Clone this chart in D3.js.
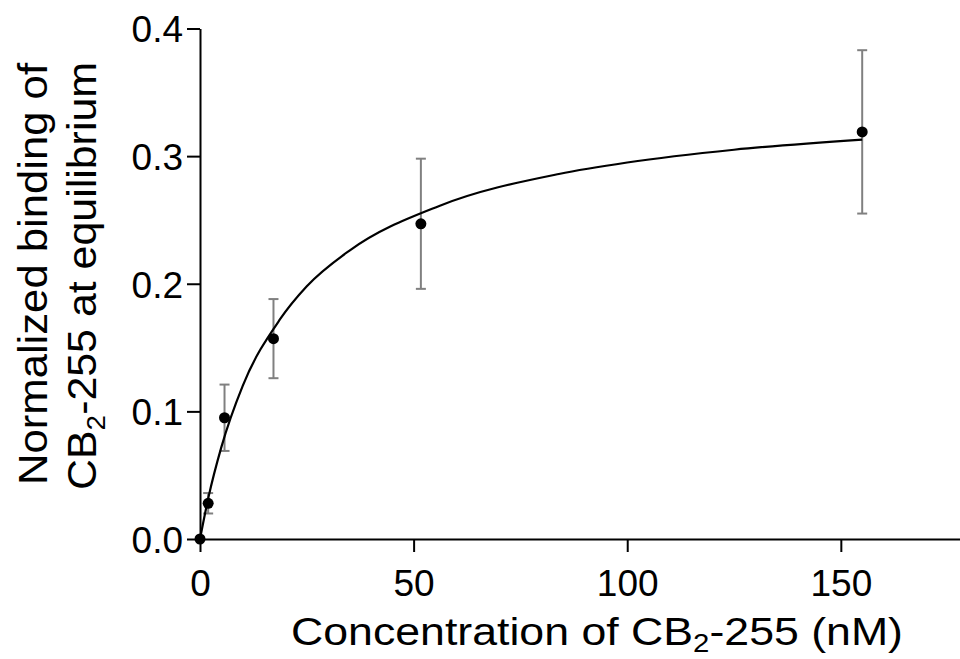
<!DOCTYPE html>
<html>
<head>
<meta charset="utf-8">
<script src="https://cdn.jsdelivr.net/npm/d3@7"></script>
<style>
  html, body { margin: 0; padding: 0; background: #fff; }
  svg { display: block; }
  text { font-family: "Liberation Sans", Arial, Helvetica, sans-serif; fill: #000; }
</style>
</head>
<body>
<svg id="chart" width="960" height="659"></svg>
<script>
// ---- Data ----
const concentrations = [0, 1.91, 5.74, 17.2, 51.7, 155];          // nM
const binding        = [0, 0.028, 0.095, 0.157, 0.247, 0.319];     // normalized binding
const errors         = [0, 0.008, 0.026, 0.031, 0.051, 0.064];     // +/- error
// fitted saturation curve
const fitX = [0, 2, 5, 10, 18.7, 25, 35, 56, 84, 100, 125, 155];
const fitY = [0, 0.033, 0.072, 0.12, 0.172, 0.198, 0.226, 0.261, 0.286, 0.295, 0.305, 0.313];
const xTicks = [0, 50, 100, 150];
const yTicks = [0, 0.1, 0.2, 0.3, 0.4];

const svg = d3.select("#chart");
const x = d3.scaleLinear().domain([0, 180]).range([200, 969]);
const y = d3.scaleLinear().domain([0, 0.4]).range([539, 28.5]);

// axes
const xAxis = d3.axisBottom(x).tickValues(xTicks).tickFormat(d3.format("d"))
  .tickSizeInner(13).tickSizeOuter(0).tickPadding(16);
const yAxis = d3.axisLeft(y).tickValues(yTicks).tickFormat(d3.format(".1f"))
  .tickSizeInner(13).tickSizeOuter(0).tickPadding(4);

const gx = svg.append("g").attr("transform", `translate(0,${y(0)})`).call(xAxis);
const gy = svg.append("g").attr("transform", `translate(${x(0)},0)`).call(yAxis);
[gx, gy].forEach(g => {
  g.selectAll("path.domain").attr("stroke", "#000").attr("stroke-width", 2);
  g.selectAll(".tick line").attr("stroke", "#000").attr("stroke-width", 2);
  g.selectAll(".tick text").style("font-size", "37px").attr("fill", "#000")
    .style("font-family", "'Liberation Sans', Arial, sans-serif");
});
gx.selectAll(".tick text").attr("dy", "0.75em");
gy.selectAll(".tick text").attr("dy", "0.36em");

// error bars
const eb = svg.append("g").attr("stroke", "#808080").attr("stroke-width", 2);
concentrations.forEach((c, i) => {
  if (errors[i] <= 0) return;
  const cx = x(c), y1 = y(binding[i] + errors[i]), y2 = y(binding[i] - errors[i]);
  eb.append("line").attr("x1", cx).attr("x2", cx).attr("y1", y1).attr("y2", y2);
  eb.append("line").attr("x1", cx - 5).attr("x2", cx + 5).attr("y1", y1).attr("y2", y1);
  eb.append("line").attr("x1", cx - 5).attr("x2", cx + 5).attr("y1", y2).attr("y2", y2);
});

// fitted curve
const line = d3.line().x((d, i) => x(fitX[i])).y((d, i) => y(fitY[i])).curve(d3.curveMonotoneX);
svg.append("path").datum(fitY).attr("d", line)
  .attr("fill", "none").attr("stroke", "#000").attr("stroke-width", 2.2);

// points
svg.append("g").selectAll("circle").data(concentrations).join("circle")
  .attr("cx", d => x(d)).attr("cy", (d, i) => y(binding[i])).attr("r", 5.5).attr("fill", "#000");

// x title
const xt = svg.append("text").attr("x", 597).attr("y", 645).attr("text-anchor", "middle")
  .attr("textLength", 612).attr("lengthAdjust", "spacingAndGlyphs")
  .style("font-size", "38px");
xt.append("tspan").text("Concentration of CB");
xt.append("tspan").attr("dy", 7).style("font-size", "25px").text("2");
xt.append("tspan").attr("dy", -7).text("-255 (nM)");

// y title (two lines, rotated)
const yt = svg.append("text").attr("transform", "translate(47,274) rotate(-90)")
  .attr("text-anchor", "middle").attr("textLength", 422).attr("lengthAdjust", "spacingAndGlyphs")
  .style("font-size", "40px");
yt.append("tspan").text("Normalized binding of");
const l2 = svg.append("text").attr("transform", "translate(96,276) rotate(-90)")
  .attr("text-anchor", "middle").attr("textLength", 428).attr("lengthAdjust", "spacingAndGlyphs")
  .style("font-size", "40px");
l2.append("tspan").text("CB");
l2.append("tspan").attr("dy", 9).style("font-size", "26px").text("2");
l2.append("tspan").attr("dy", -9).text("-255 at equilibrium");
</script>
</body>
</html>
